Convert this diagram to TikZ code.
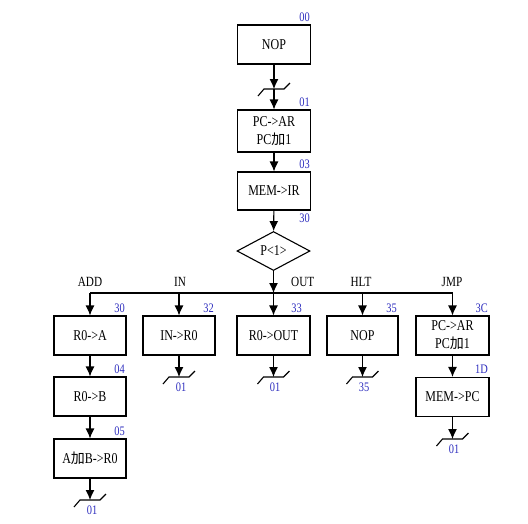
\documentclass[tikz,border=0pt]{standalone}
\usepackage{fontspec}
\setmainfont[FakeStretch=0.8]{Liberation Serif}
\newfontfamily\cjk{Noto Sans CJK SC}
\usetikzlibrary{arrows.meta,shapes.geometric}
\definecolor{lblue}{RGB}{45,45,190}
\tikzset{
  box/.style={draw,line width=1.1pt,minimum width=73pt,minimum height=39pt,inner sep=1pt,align=center,font=\fontsize{15}{18}\selectfont},
  dia/.style={draw,diamond,aspect=1.87,line width=1.1pt,minimum width=73pt,minimum height=39pt,inner sep=0pt,font=\fontsize{15}{18}\selectfont},
  addr/.style={text=lblue,font=\fontsize{13}{15}\selectfont,inner sep=1pt},
  tag/.style={font=\fontsize{14}{16}\selectfont,inner sep=1pt},
  arr/.style={draw,line width=1.1pt,-{Latex[length=10pt,width=9pt]}},
  ln/.style={draw,line width=1.1pt},
  pics/brk/.style={code={\draw[line width=1.1pt] (-16,7) -- (-10,0) -- (10,0) -- (16,-6);}}
}
\newcommand{\jia}{{\cjk\fontsize{14}{16}\selectfont 加}}
\begin{document}
\begin{tikzpicture}[x=1pt,y=-1pt]
\useasboundingbox (0,0) rectangle (528,523);
% main column
\node[box] (n00) at (274,44.5) {NOP};
\node[addr,anchor=south east] (l00) at (311,23) {00};
\coordinate (b0) at (274,89);
\pic at (b0) {brk};
\node[box,minimum height=42pt] (n01) at (274,131) {PC->AR\\PC\jia 1};
\node[addr,anchor=south east] (l01) at (311,108) {01};
\node[box,minimum height=38pt] (n03) at (274,191) {MEM->IR};
\node[addr,anchor=south east] (l03) at (311,170) {03};
\node[dia] (d) at (273.5,251) {P<1>};
\node[addr,anchor=south east] (l30a) at (311,224) {30};
\draw[arr] (n00) -- (b0);
\draw[arr] (b0) -- (n01);
\draw[arr] (n01) -- (n03);
\draw[arr] (n03) -- (d);
% bus
\coordinate (bus) at (273.5,293);
\coordinate (busL) at (90,293);
\coordinate (busR) at (452.5,293);
\draw[arr] (d.south) -- (bus);
\draw[ln] (busL) -- (busR);
% branch boxes
\node[box,minimum width=72pt] (a30) at (90,335.5) {R0->A};
\node[box,minimum width=72pt] (a32) at (179,335.5) {IN->R0};
\node[box] (a33) at (273.5,335.5) {R0->OUT};
\node[box,minimum width=71pt] (a35) at (362.5,335.5) {NOP};
\node[box] (a3C) at (452.5,335.5) {PC->AR\\PC\jia 1};
\node[addr,anchor=south east] (l30) at (126,314) {30};
\node[addr,anchor=south east] (l32) at (215,314) {32};
\node[addr,anchor=south east] (l33) at (303,314) {33};
\node[addr,anchor=south east] (l35) at (398,314) {35};
\node[addr,anchor=south east] (l3C) at (489,314) {3C};
\node[tag,anchor=base] (tADD) at (90,286) {ADD};
\node[tag,anchor=base] (tIN) at (180,286) {IN};
\node[tag,anchor=base west] (tOUT) at (290,286) {OUT};
\node[tag,anchor=base] (tHLT) at (361,286) {HLT};
\node[tag,anchor=base] (tJMP) at (452,286) {JMP};
\draw[arr] (busL) -- (a30);
\draw[arr] (179,293) -- (a32);
\draw[arr] (bus) -- (a33);
\draw[arr] (362.5,293) -- (a35);
\draw[arr] (busR) -- (a3C);
% ADD chain
\node[box,minimum width=72pt] (a04) at (90,396.5) {R0->B};
\node[addr,anchor=south east] (l04) at (126,375) {04};
\node[box,minimum width=72pt] (a05) at (90,458.5) {A\jia B->R0};
\node[addr,anchor=south east] (l05) at (126,437) {05};
\draw[arr] (a30) -- (a04);
\draw[arr] (a04) -- (a05);
\coordinate (e1) at (90,500);
\pic at (e1) {brk};
\draw[arr] (a05) -- (e1);
\node[addr] (x1) at (92,510) {01};
% IN
\coordinate (e2) at (179,377);
\pic at (e2) {brk};
\draw[arr] (a32) -- (e2);
\node[addr] (x2) at (181,387) {01};
% OUT
\coordinate (e3) at (273.5,377);
\pic at (e3) {brk};
\draw[arr] (a33) -- (e3);
\node[addr] (x3) at (275,387) {01};
% HLT
\coordinate (e4) at (362.5,377);
\pic at (e4) {brk};
\draw[arr] (a35) -- (e4);
\node[addr] (x4) at (364,387) {35};
% JMP chain
\node[box] (a1D) at (452.5,397) {MEM->PC};
\node[addr,anchor=south east] (l1D) at (489,375) {1D};
\draw[arr] (a3C) -- (a1D);
\coordinate (e5) at (452.5,439);
\pic at (e5) {brk};
\draw[arr] (a1D) -- (e5);
\node[addr] (x5) at (454,449) {01};
\end{tikzpicture}
\end{document}
